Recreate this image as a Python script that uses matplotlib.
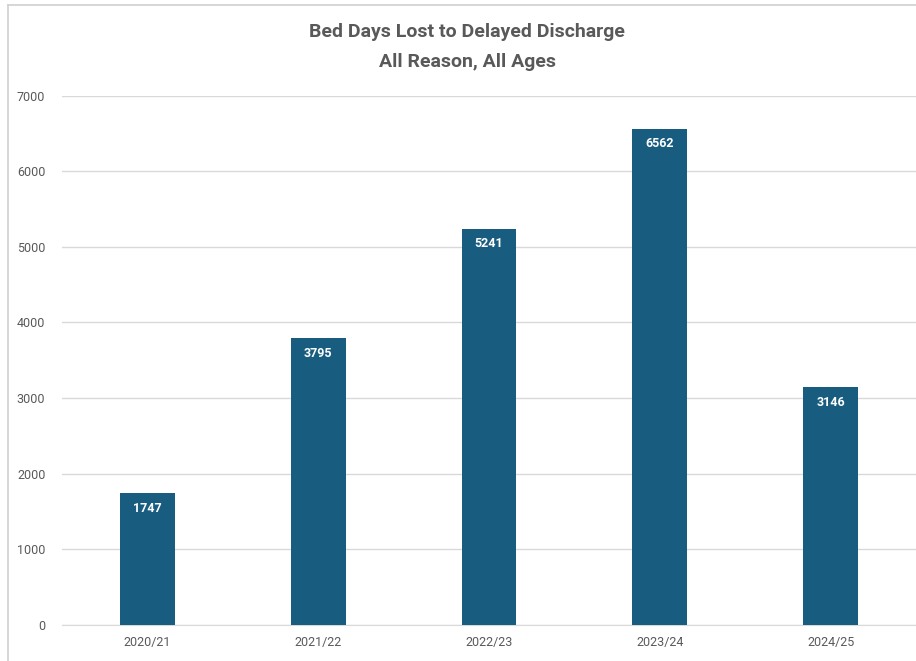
import matplotlib
matplotlib.use("Agg")
import matplotlib.pyplot as plt
from matplotlib.lines import Line2D

# Dados
years = ["2020/21", "2021/22", "2022/23", "2023/24", "2024/25"]
bed_days = [1747, 3795, 5241, 6562, 3146]

bar_color = "#185d7f"
text_grey = "#595959"

plt.rcParams["font.family"] = ["Roboto", "DejaVu Sans"]

fig = plt.figure(figsize=(9.16, 6.61), dpi=100)
ax = fig.add_axes([62 / 916, 0.0545, 1 - 62 / 916, 0.801])

x = range(len(years))
bars = ax.bar(x, bed_days, width=0.32, color=bar_color, zorder=3)
for b, v in zip(bars, bed_days):
    ax.annotate(str(v), (b.get_x() + b.get_width() / 2, v),
                xytext=(0, -11), textcoords="offset points",
                ha="center", va="center", color="white",
                fontsize=9, fontweight="bold")

ax.set_xlim(-0.5, len(years) - 0.5)
ax.set_ylim(0, 7000)
ax.set_yticks(range(0, 7001, 1000))
ax.set_xticks(list(x))
ax.set_xticklabels(years)
ax.yaxis.grid(True, color="#d9d9d9", linewidth=1, zorder=0)
for s in ["top", "right", "left"]:
    ax.spines[s].set_visible(False)
ax.spines["bottom"].set_color("#d9d9d9")
ax.tick_params(axis="both", length=0, colors=text_grey, labelsize=9)
ax.tick_params(axis="y", pad=12)
ax.tick_params(axis="x", pad=8)

fig.text(0.51, 1 - 32 / 661, "Bed Days Lost to Delayed Discharge",
         ha="center", va="center", fontsize=14, fontweight="bold", color=text_grey)
fig.text(0.51, 1 - 62 / 661, "All Reason, All Ages",
         ha="center", va="center", fontsize=14, fontweight="bold", color=text_grey)

# moldura do print
fig.add_artist(Line2D([8 / 916, 8 / 916], [0, 1 - 5 / 661], color="#d0d0d0", lw=1.2))
fig.add_artist(Line2D([8 / 916, 1], [1 - 5 / 661, 1 - 5 / 661], color="#d0d0d0", lw=1.2))

fig.savefig("out.png", dpi=100)
